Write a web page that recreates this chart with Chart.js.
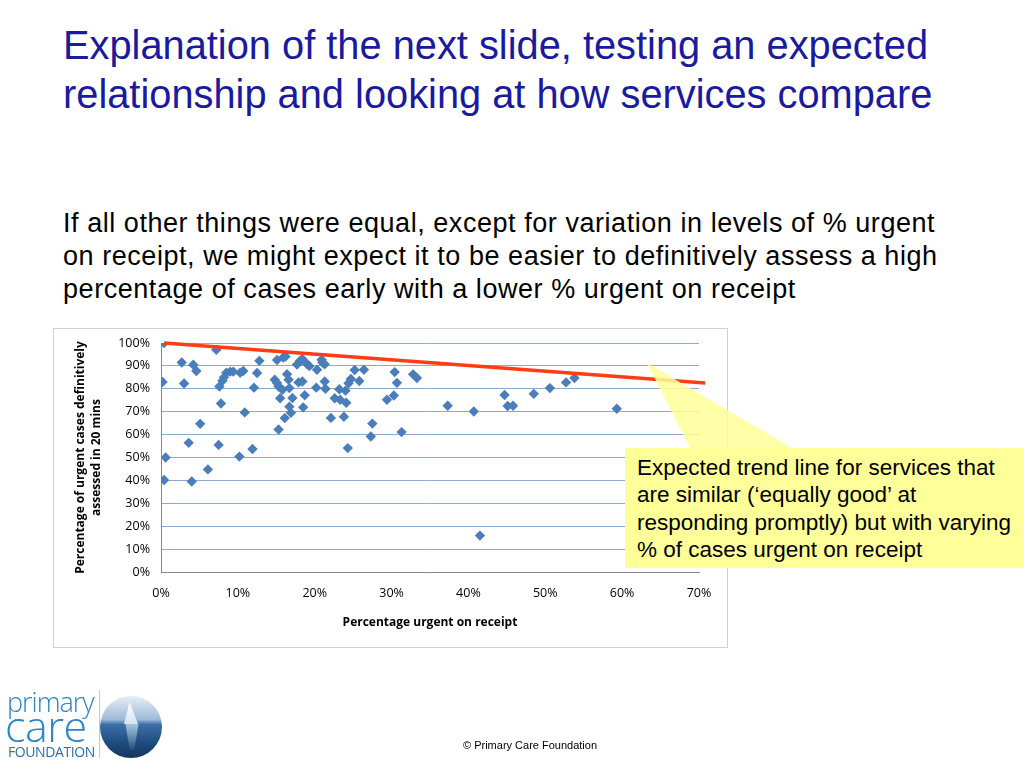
<!DOCTYPE html>
<html>
<head>
<meta charset="utf-8">
<script src="https://cdn.jsdelivr.net/npm/chart.js@4.4.1/dist/chart.umd.min.js"></script>
<style>
  html, body { margin: 0; padding: 0; background: #fff; }
  body { width: 1024px; height: 768px; position: relative; overflow: hidden; font-family: 'Liberation Sans', Arial, sans-serif; }
  #title { position: absolute; left: 63px; top: 21px; width: 960px; color: #1A1AA0; font-size: 39.8px; line-height: 49px; white-space: nowrap; }
  #body { position: absolute; left: 63px; top: 207px; width: 960px; color: #000; font-size: 27px; letter-spacing: 0.55px; line-height: 33px; white-space: nowrap; }
  #box { position: absolute; left: 53px; top: 328px; width: 673px; height: 318px; border: 1px solid #D0D0D0; }
  #wrap { position: absolute; left: 54px; top: 329px; width: 672px; height: 318px; }
  #callout { position: absolute; left: 0; top: 0; width: 1024px; height: 768px; pointer-events: none; }
  #calloutText { position: absolute; left: 637px; top: 454px; width: 385px; font-size: 22.5px; line-height: 27.3px; color: #000; white-space: nowrap; }
  #footer { position: absolute; left: 463px; top: 739px; font-size: 11px; color: #000; }
  .logo { position: absolute; color: #2A86C6; font-family: 'Open Sans', sans-serif; white-space: nowrap; }
</style>
</head>
<body>
<div id="title">Explanation of the next slide, testing an expected<br>relationship and looking at how services compare</div>
<div id="body">If all other things were equal, except for variation in levels of % urgent<br>on receipt, we might expect it to be easier to definitively assess a high<br>percentage of cases early with a lower % urgent on receipt</div>
<div id="box"></div>
<div id="wrap"><canvas id="chart" width="672" height="318"></canvas></div>

<svg id="callout" viewBox="0 0 1024 768">
  <polygon points="647,363 690,448 792,448" fill="#FFFF99" fill-opacity="0.85"/>
  <rect x="625" y="448" width="398" height="120" fill="#FFFF99"/>
</svg>
<div id="calloutText">Expected trend line for services that<br>are similar (‘equally good’ at<br>responding promptly) but with varying<br>% of cases urgent on receipt</div>

<div class="logo" style="left:7px; top:688px; font-size:27px; line-height:27px; font-weight:300; letter-spacing:-1px;">primary</div>
<div class="logo" style="left:5px; top:704px; font-size:43px; line-height:43px; font-weight:300; letter-spacing:-0.5px;">care</div>
<div class="logo" style="left:8px; top:744px; font-size:14px; line-height:16px; letter-spacing:-0.4px; color:#2C6FA8;">FOUNDATION</div>
<div style="position:absolute; left:99px; top:690px; width:1px; height:68px; background:#C8C8C8;"></div>
<div style="position:absolute; left:100px; top:696px; width:62px; height:62px; border-radius:50%; background:linear-gradient(#E6EEF6 0%, #9DB9D8 38%, #3D6FA6 46%, #1E4C80 75%, #14365E 100%);"></div>
<div style="position:absolute; left:124px; top:702px; width:14px; height:22px; background:linear-gradient(#FFFFFF, #D5E4F2); clip-path:polygon(40% 0, 100% 100%, 0 100%);"></div>
<div style="position:absolute; left:121px; top:724px; width:22px; height:26px; background:linear-gradient(rgba(190,215,235,0.8), rgba(60,110,160,0.2)); clip-path:polygon(20% 0, 80% 0, 60% 100%, 40% 100%);"></div>

<div id="footer">© Primary Care Foundation</div>

<script>
'use strict';

// x = share of cases urgent on receipt, y = share of urgent cases assessed in 20 mins
const urgentOnReceipt = [
  0.004, 0.002, 0.006, 0.004, 0.027, 0.030, 0.042, 0.046, 0.036, 0.040,
  0.051, 0.061, 0.072, 0.075, 0.076, 0.078, 0.080, 0.082, 0.085, 0.090,
  0.094, 0.103, 0.107, 0.102, 0.109, 0.119, 0.121, 0.125, 0.128, 0.148,
  0.151, 0.153, 0.151, 0.153, 0.155, 0.158, 0.159, 0.162, 0.161, 0.164,
  0.166, 0.167, 0.167, 0.169, 0.171, 0.177, 0.179, 0.181, 0.184, 0.184,
  0.185, 0.187, 0.190, 0.193, 0.202, 0.203, 0.209, 0.210, 0.213, 0.213,
  0.214, 0.221, 0.226, 0.232, 0.233, 0.238, 0.240, 0.241, 0.243, 0.244,
  0.247, 0.252, 0.258, 0.264, 0.275, 0.273, 0.294, 0.303, 0.304, 0.307,
  0.313, 0.328, 0.333, 0.373, 0.407, 0.415, 0.447, 0.451, 0.458, 0.485,
  0.506, 0.527, 0.538, 0.593
];
const assessedIn20 = [
  1.000, 0.830, 0.500, 0.402, 0.915, 0.823, 0.905, 0.878, 0.564, 0.395,
  0.647, 0.448, 0.970, 0.555, 0.810, 0.736, 0.835, 0.850, 0.870, 0.875,
  0.875, 0.870, 0.878, 0.504, 0.697, 0.537, 0.805, 0.869, 0.922, 0.840,
  0.825, 0.810, 0.926, 0.622, 0.759, 0.796, 0.937, 0.941, 0.672, 0.864,
  0.840, 0.803, 0.722, 0.695, 0.760, 0.906, 0.828, 0.923, 0.930, 0.832,
  0.719, 0.772, 0.908, 0.899, 0.805, 0.883, 0.927, 0.915, 0.907, 0.832,
  0.800, 0.673, 0.759, 0.798, 0.752, 0.678, 0.792, 0.739, 0.541, 0.824,
  0.843, 0.882, 0.834, 0.883, 0.648, 0.592, 0.752, 0.771, 0.873, 0.826,
  0.611, 0.863, 0.847, 0.726, 0.701, 0.159, 0.773, 0.725, 0.726, 0.778,
  0.803, 0.828, 0.847, 0.713
];

// expected trend line end points
const trendX = [0.004, 0.708];
const trendY = [1.000, 0.825];

const services = urgentOnReceipt.map((x, i) => ({ x, y: assessedIn20[i] }));
const trend = trendX.map((x, i) => ({ x, y: trendY[i] }));

const pct = (v) => Math.round(v * 100) + '%';
const tickFont = { family: "'Open Sans', sans-serif", size: 12.5 };
const titleFont = { family: "'Open Sans', sans-serif", size: 12, weight: 'bold', lineHeight: 16 / 12 };

new Chart(document.getElementById('chart'), {
  type: 'scatter',
  data: {
    datasets: [
      {
        label: 'Services',
        data: services,
        pointStyle: 'rectRot',
        pointRadius: 5.2,
        pointHoverRadius: 5.2,
        backgroundColor: '#4A7EBB',
        borderWidth: 0,
        order: 2,
      },
      {
        type: 'line',
        label: 'Expected trend',
        data: trend,
        borderColor: '#FF3C14',
        borderWidth: 3.5,
        pointRadius: 0,
        fill: false,
        clip: false,
        order: 1,
      },
    ],
  },
  options: {
    responsive: false,
    animation: false,
    layout: { padding: { left: 0, top: 14, right: 27, bottom: 0 } },
    plugins: { legend: { display: false }, tooltip: { enabled: false } },
    scales: {
      x: {
        type: 'linear',
        min: 0,
        max: 0.7,
        afterFit: (s) => { s.height = 75; },
        grid: { display: false, drawTicks: false },
        border: { display: true, color: '#888888', width: 1 },
        ticks: { stepSize: 0.1, padding: 14, color: '#000', font: tickFont, callback: pct },
        title: {
          display: true,
          text: 'Percentage urgent on receipt',
          color: '#000',
          font: titleFont,
          padding: { top: 0, bottom: 16 },
        },
      },
      y: {
        min: 0,
        max: 1,
        // fixed width; drop the label overhang so the plot top follows layout padding
        afterFit: (s) => { s.width = 107; s.paddingTop = 0; s.paddingBottom = 0; },
        grid: { color: '#8EA8D0', drawTicks: false, lineWidth: 1 },
        border: { display: true, color: '#888888', width: 1 },
        ticks: { stepSize: 0.1, padding: 11, color: '#000', font: tickFont, callback: pct },
        title: {
          display: true,
          text: ['Percentage of urgent cases definitively', 'assessed in 20 mins'],
          color: '#000',
          font: titleFont,
          padding: { top: 19, bottom: 0 },
        },
      },
    },
  },
});
</script>
</body>
</html>
